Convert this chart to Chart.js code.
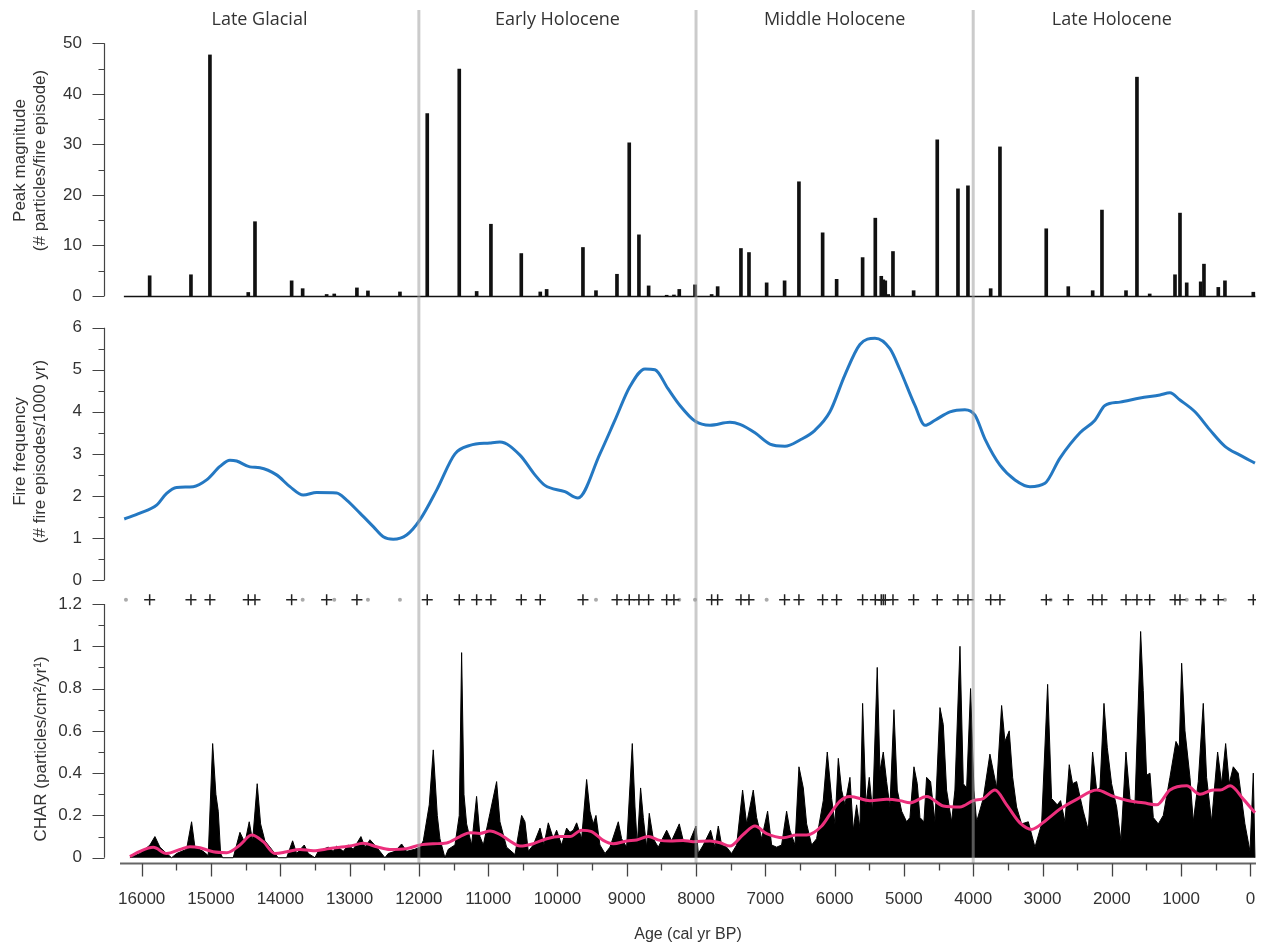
<!DOCTYPE html>
<html>
<head>
<meta charset="utf-8">
<script src="https://cdn.jsdelivr.net/npm/chart.js@4.4.1/dist/chart.umd.min.js"></script>
<style>
  html, body { margin: 0; background: #fff; }
  #wrap { width: 1270px; height: 944px; position: relative; }
</style>
</head>
<body>
<div id="wrap"><canvas id="fireChart"></canvas></div>
<script>
// Periods along the top
const periodNames = ['Late Glacial', 'Early Holocene', 'Middle Holocene', 'Late Holocene'];
const periodCenters = [14300, 10000, 6000, 2000];
const periodBounds = [12000, 8000, 4000];

// Axis ticks
const ageTicks = [0, 1000, 2000, 3000, 4000, 5000, 6000, 7000, 8000, 9000, 10000, 11000, 12000, 13000, 14000, 15000, 16000];
const peakTicks = [0, 10, 20, 30, 40, 50];
const freqTicks = [0, 1, 2, 3, 4, 5, 6];
const charTicks = [0, 0.2, 0.4, 0.6, 0.8, 1, 1.2];
const peakBaseRange = [16257, -72];

// Peak magnitude (particles / fire episode)
const peakAges = [15885, 15289, 15015, 14462, 14365, 13836, 13677, 13331, 13221, 12894, 12735, 12273,
  11879, 11417, 11166, 10960, 10522, 10248, 10156, 9632, 9444, 9141, 8964, 8824, 8684, 8424, 8319, 8242, 8015,
  7775, 7688, 7352, 7236, 6981, 6722, 6515, 6173, 5971, 5596, 5413, 5327, 5298, 5269, 5226, 5158, 4860,
  4519, 4220, 4076, 3748, 3614, 2946, 2628, 2276, 2142, 1795, 1637, 1453, 1088, 1016, 919, 717, 670, 463, 367, -42];
const peakMagnitudes = [4.0, 4.2, 47.7, 0.7, 14.7, 3.0, 1.45, 0.3, 0.4, 1.6, 1.0, 0.8,
  36.1, 44.9, 0.9, 14.2, 8.4, 0.8, 1.3, 9.6, 1.05, 4.3, 30.3, 12.1, 2.0, 0.15, 0.2, 1.3, 2.2,
  0.3, 1.85, 9.4, 8.6, 2.6, 3.0, 22.6, 12.5, 3.3, 7.6, 15.4, 3.9, 3.2, 3.0, 0.3, 8.8, 1.05,
  30.9, 21.2, 21.8, 1.45, 29.5, 13.3, 1.85, 1.05, 17.0, 1.05, 43.3, 0.4, 4.2, 16.4, 2.6, 2.8, 6.3, 1.7, 3.0, 0.75];

// Significant peaks (+) and non-significant peaks (grey dots)
const sigPeakAges = [15885, 15289, 15015, 14462, 14365, 13836, 13331, 12894, 11879, 11417, 11166, 10960, 10522,
  10248, 9632, 9141, 8964, 8824, 8684, 8424, 8319, 7775, 7688, 7352, 7236, 6722, 6515, 6173, 5971, 5596, 5413,
  5327, 5298, 5269, 5158, 4860, 4519, 4220, 4076, 3748, 3614, 2946, 2628, 2276, 2142, 1795, 1637, 1453, 1088,
  1016, 717, 463, -42];
const minorPeakAges = [16227, 13677, 13221, 12735, 12273, 9444, 8242, 8015, 6981, 2882, 919, 670, 367];
const markerLevel = 1.22;

// Fire frequency (episodes / 1000 yr)
const freqAges = [16252, 16026, 15785, 15640, 15496, 15256, 15063, 14871, 14727, 14630, 14438, 14294, 14053,
  13861, 13669, 13475, 13187, 13042, 12850, 12658, 12514, 12370, 12177, 11985, 11740, 11479, 11263, 10974,
  10830, 10541, 10325, 10181, 9892, 9704, 9387, 9170, 8954, 8737, 8593, 8405, 8232, 8016, 7799, 7511, 7366,
  7150, 6933, 6717, 6500, 6284, 6068, 5851, 5635, 5418, 5202, 5057, 4841, 4696, 4552, 4336, 4119, 3975, 3830,
  3614, 3397, 3181, 2965, 2748, 2459, 2243, 2099, 1882, 1593, 1305, 1161, 1016, 800, 584, 367, 150, -66];
const freqValues = [1.45, 1.59, 1.78, 2.06, 2.20, 2.22, 2.38, 2.70, 2.85, 2.83, 2.69, 2.67, 2.50,
  2.22, 2.02, 2.08, 2.07, 1.90, 1.59, 1.27, 1.03, 0.97, 1.07, 1.43, 2.15, 3.00, 3.20, 3.26,
  3.28, 2.97, 2.50, 2.25, 2.10, 1.95, 3.00, 3.80, 4.60, 5.02, 5.00, 4.55, 4.15, 3.78, 3.68, 3.75, 3.70,
  3.50, 3.23, 3.18, 3.33, 3.56, 4.00, 4.88, 5.60, 5.75, 5.50, 5.00, 4.15, 3.68, 3.80, 4.00, 4.05, 3.92, 3.35,
  2.73, 2.38, 2.22, 2.30, 2.90, 3.50, 3.80, 4.15, 4.23, 4.33, 4.40, 4.45, 4.28, 4.00, 3.57, 3.18, 2.97, 2.78];

// CHAR (particles/cm2/yr)
const charAges = [16170, 16026, 15881, 15809, 15737, 15640, 15568, 15496, 15352, 15280, 15232, 15112, 15040,
  14976, 14929, 14895, 14861, 14832, 14679, 14582, 14510, 14448, 14399, 14333, 14284, 14222, 14125, 14030,
  13908, 13822, 13764, 13654, 13596, 13500, 13452, 13308, 13236, 13187, 13091, 13019, 12947, 12836, 12778,
  12706, 12610, 12490, 12442, 12345, 12249, 12177, 12057, 11985,
  11936, 11850, 11792, 11734, 11696, 11624, 11575, 11479, 11417, 11383, 11349, 11311, 11239, 11167, 11118,
  11070, 10974, 10878, 10830, 10734, 10613, 10517, 10469, 10421, 10349, 10252, 10195, 10132, 10060, 10012,
  9940, 9868, 9820, 9771, 9723, 9651, 9579, 9531, 9483, 9444, 9387, 9314, 9242, 9122, 9074, 9002, 8920,
  8881, 8848, 8800, 8761, 8713, 8675, 8617, 8545, 8424, 8352, 8242, 8184, 8088, 8001, 7967, 7895, 7790,
  7727, 7679, 7631, 7559, 7487, 7414, 7328, 7270, 7174, 7126, 7053, 6967, 6909, 6837, 6765, 6693, 6645,
  6572, 6515, 6452, 6404, 6332, 6260, 6164, 6106, 6043, 5995, 5947,
  5899, 5851, 5779, 5731, 5683, 5635, 5596, 5548, 5500, 5452, 5385, 5346, 5298, 5250, 5202, 5144, 5096,
  5033, 4961, 4913, 4855, 4807, 4769, 4711, 4673, 4615, 4552, 4480, 4432, 4384, 4312, 4264, 4191, 4143,
  4095, 4038, 3989, 3951, 3855, 3759, 3710, 3662, 3590, 3542, 3480, 3431, 3374, 3302, 3205, 3109, 3013,
  2926, 2869, 2787, 2739, 2676, 2614, 2566, 2508, 2412, 2339, 2277, 2219, 2171, 2113, 2065, 2003, 1930,
  1868, 1796, 1738, 1666, 1584, 1546, 1498, 1449, 1401, 1329, 1257, 1161, 1074, 1026, 992, 944, 872, 824,
  752, 680, 632, 560, 473, 415, 357, 305, 247, 175, 127, 79, 6, -42, -66];
const charValues = [0, 0.02, 0.06, 0.10, 0.05, 0.02, 0, 0.02, 0.04, 0.17, 0.05, 0.03, 0.01,
  0.54, 0.30, 0.22, 0.02, 0, 0, 0.12, 0.07, 0.17, 0.08, 0.35, 0.16, 0.08, 0.04, 0,
  0, 0.08, 0.02, 0.06, 0.02, 0, 0.03, 0.05, 0.03, 0.055, 0.03, 0.06, 0.04, 0.10, 0.05,
  0.085, 0.05, 0, 0.02, 0.03, 0.065, 0.03, 0.04, 0.05,
  0.08, 0.25, 0.51, 0.20, 0.09, 0.0, 0.04, 0.06, 0.20, 0.97, 0.30, 0.16, 0.06, 0.29, 0.10,
  0.06, 0.21, 0.36, 0.17, 0.05, 0.015, 0.20, 0.17, 0.03, 0.06, 0.14, 0.06, 0.165, 0.09, 0.13,
  0.06, 0.14, 0.12, 0.13, 0.165, 0.09, 0.37, 0.22, 0.16, 0.20, 0.06, 0.02, 0.05, 0.17, 0.09, 0.05, 0.54,
  0.24, 0.06, 0.33, 0.19, 0.05, 0.21, 0.09, 0.05, 0.13, 0.08, 0.16, 0.08, 0.08, 0.15, 0.02, 0.06, 0.13,
  0.05, 0.15, 0.06, 0.05, 0.02, 0.06, 0.32, 0.16, 0.32, 0.19, 0.09, 0.22, 0.06, 0.05, 0.06, 0.22, 0.13,
  0.06, 0.43, 0.33, 0.16, 0.06, 0.09, 0.27, 0.50, 0.28, 0.16, 0.47,
  0.32, 0.25, 0.38, 0.13, 0.25, 0.14, 0.73, 0.25, 0.38, 0.22, 0.90, 0.41, 0.50, 0.36, 0.24, 0.70, 0.32,
  0.22, 0.17, 0.19, 0.43, 0.35, 0.19, 0.17, 0.38, 0.36, 0.17, 0.71, 0.63, 0.32, 0.17, 0.32, 1.00, 0.35,
  0.33, 0.80, 0.32, 0.17, 0.28, 0.49, 0.41, 0.33, 0.72, 0.55, 0.60, 0.38, 0.24, 0.16, 0.17, 0.05, 0.16,
  0.82, 0.28, 0.25, 0.27, 0.17, 0.44, 0.35, 0.36, 0.22, 0.13, 0.50, 0.32, 0.33, 0.73, 0.52, 0.35, 0.24,
  0.08, 0.50, 0.28, 0.25, 1.07, 0.79, 0.39, 0.40, 0.19, 0.16, 0.20, 0.38, 0.55, 0.52, 0.92, 0.60, 0.38, 0.17,
  0.36, 0.73, 0.38, 0.17, 0.50, 0.35, 0.54, 0.35, 0.43, 0.40, 0.28, 0.16, 0.03, 0.40, 0.0];

// Background CHAR (smoothed)
const backgroundAges = [16170, 16026, 15834, 15640, 15448, 15304, 15160, 14968, 14774, 14582, 14413, 14246,
  14077, 13908, 13716, 13524, 13283, 12995, 12803, 12609, 12418, 12177, 11985, 11793, 11599, 11407, 11263,
  11119, 10974, 10830, 10686, 10541, 10349, 10156, 9964, 9820, 9651, 9507, 9339, 9195, 9001, 8857, 8690,
  8521, 8377, 8185, 8040, 7799, 7655, 7511, 7319, 7150, 6981, 6741, 6548, 6404, 6187, 6068, 5923, 5779,
  5490, 5249, 5058, 4913, 4672, 4432, 4191, 3999, 3855, 3686, 3517, 3326, 3157, 2940, 2748, 2507, 2218,
  1978, 1737, 1545, 1352, 1161, 919, 727, 535, 436, 292, 100, -66];
const backgroundValues = [0.005, 0.03, 0.049, 0.02, 0.039, 0.052, 0.047, 0.028, 0.024, 0.06, 0.107, 0.076,
  0.02, 0.028, 0.039, 0.033, 0.044, 0.055, 0.068, 0.052, 0.039, 0.043, 0.06, 0.066, 0.07, 0.10, 0.118,
  0.115, 0.126, 0.11, 0.079, 0.055, 0.066, 0.09, 0.10, 0.10, 0.13, 0.123, 0.082, 0.066, 0.079, 0.084, 0.10,
  0.082, 0.079, 0.082, 0.076, 0.079, 0.071, 0.055, 0.11, 0.15, 0.114, 0.095, 0.107, 0.107, 0.15, 0.205, 0.268, 0.29,
  0.27, 0.276, 0.27, 0.26, 0.29, 0.245, 0.24, 0.27, 0.28, 0.32, 0.25, 0.165, 0.134, 0.18, 0.23, 0.276, 0.32,
  0.29, 0.268, 0.26, 0.25, 0.32, 0.34, 0.30, 0.32, 0.32, 0.34, 0.276, 0.213];

const textColor = '#333';
Chart.defaults.font.family = '"Liberation Sans", Arial, sans-serif';
Chart.defaults.font.size = 17;
Chart.defaults.color = textColor;

const pairs = (xs, ys) => xs.map((x, i) => ({ x: x, y: ys[i] }));

// R style axes, period lines and labels
const panelDecor = {
  id: 'panelDecor',
  afterDatasetsDraw(chart) {
    const { ctx, chartArea: area, scales } = chart;
    const x = scales.x;
    ctx.save();

    // baseline of the peak panel
    const y0 = Math.round(scales.yTop.getPixelForValue(0)) + 0.5;
    ctx.strokeStyle = '#111';
    ctx.lineWidth = 1.5;
    ctx.beginPath();
    ctx.moveTo(x.getPixelForValue(peakBaseRange[0]), y0);
    ctx.lineTo(x.getPixelForValue(peakBaseRange[1]), y0);
    ctx.stroke();

    // period boundaries
    ctx.strokeStyle = 'rgba(160,160,160,0.55)';
    ctx.lineWidth = 3;
    periodBounds.forEach(a => {
      const px = x.getPixelForValue(a);
      ctx.beginPath();
      ctx.moveTo(px, area.top);
      ctx.lineTo(px, area.bottom);
      ctx.stroke();
    });

    ctx.fillStyle = textColor;
    ctx.font = '18px "Open Sans", sans-serif';
    ctx.textAlign = 'center';
    ctx.textBaseline = 'middle';
    periodNames.forEach((n, i) => ctx.fillText(n, x.getPixelForValue(periodCenters[i]), area.top + 10));

    // y axes
    const axisX = area.left - 15.5;
    ctx.strokeStyle = '#444';
    ctx.lineWidth = 1.2;
    [[scales.yTop, peakTicks, 5], [scales.yMid, freqTicks, 0.5], [scales.yChar, charTicks, 0.1]].forEach(([s, ticks, step]) => {
      const top = ticks[ticks.length - 1];
      ctx.beginPath();
      ctx.moveTo(axisX, s.getPixelForValue(0));
      ctx.lineTo(axisX, s.getPixelForValue(top));
      for (let i = 0; i * step <= top + 1e-9; i++) {
        const py = Math.round(s.getPixelForValue(i * step)) + 0.5;
        const len = i % 2 === 0 ? 12 : 6;
        ctx.moveTo(axisX - len, py);
        ctx.lineTo(axisX, py);
      }
      ctx.stroke();
    });

    // x axis
    const ay = area.bottom + 0.5;
    ctx.strokeStyle = '#666';
    ctx.lineWidth = 2;
    ctx.beginPath();
    ctx.moveTo(area.left, ay);
    ctx.lineTo(area.right, ay);
    ctx.stroke();
    ctx.strokeStyle = '#444';
    ctx.lineWidth = 1.3;
    ctx.beginPath();
    for (let a = 0; a <= 16000; a += 500) {
      const px = Math.round(x.getPixelForValue(a)) + 0.5;
      ctx.moveTo(px, ay);
      ctx.lineTo(px, ay + (a % 1000 === 0 ? 13 : 7));
    }
    ctx.stroke();

    // CHAR axis title
    ctx.save();
    ctx.translate(area.left - 79, 749);
    ctx.rotate(-Math.PI / 2);
    ctx.font = '17px "Liberation Sans", Arial, sans-serif';
    ctx.fillText('CHAR (particles/cm²/yr¹)', 0, 0);
    ctx.restore();

    ctx.restore();
  }
};

const yCommon = {
  type: 'linear',
  position: 'left',
  stack: 'panels',
  grid: { display: false, drawTicks: false },
  border: { display: false },
  afterFit: s => { s.width = 120; s.paddingTop = 0; s.paddingBottom = 0; }
};

new Chart(document.getElementById('fireChart'), {
  type: 'line',
  data: {
    datasets: [
      {
        type: 'scatter', label: 'significant peaks', order: 0,
        data: sigPeakAges.map(a => ({ x: a, y: markerLevel })),
        yAxisID: 'yChar', pointStyle: 'cross', pointRadius: 5.5, borderColor: '#222', borderWidth: 1.5
      },
      {
        type: 'scatter', label: 'other peaks', order: 0,
        data: minorPeakAges.map(a => ({ x: a, y: markerLevel })),
        yAxisID: 'yChar', pointStyle: 'circle', pointRadius: 2, backgroundColor: '#aaa', borderWidth: 0
      },
      {
        label: 'background', order: 1, data: pairs(backgroundAges, backgroundValues), yAxisID: 'yChar',
        borderColor: '#ec2f7c', borderWidth: 3, pointRadius: 0, cubicInterpolationMode: 'monotone', fill: false
      },
      {
        label: 'CHAR', order: 3, data: pairs(charAges, charValues), yAxisID: 'yChar',
        borderColor: '#000', borderWidth: 1, backgroundColor: '#000', pointRadius: 0, tension: 0, fill: 'origin'
      },
      {
        label: 'fire frequency', order: 2, data: pairs(freqAges, freqValues), yAxisID: 'yMid',
        borderColor: '#2478c2', borderWidth: 3, pointRadius: 0, cubicInterpolationMode: 'monotone', fill: false
      },
      {
        type: 'bar', label: 'peak magnitude', order: 2, data: pairs(peakAges, peakMagnitudes), yAxisID: 'yTop',
        backgroundColor: '#111', barThickness: 3, grouped: false
      }
    ]
  },
  options: {
    responsive: true,
    maintainAspectRatio: false,
    animation: false,
    layout: { padding: { top: 10, right: 14, bottom: 0, left: 0 } },
    plugins: { legend: { display: false }, tooltip: { enabled: false } },
    scales: {
      x: {
        type: 'linear', position: 'bottom', min: -81, max: 16313, reverse: true, offset: false,
        grid: { display: false, drawTicks: false, offset: false },
        border: { display: false },
        afterBuildTicks: s => { s.ticks = ageTicks.map(v => ({ value: v })); },
        ticks: { autoSkip: false, maxRotation: 0, padding: 26, callback: v => String(v) },
        title: { display: true, text: 'Age (cal yr BP)', font: { size: 16 }, padding: { top: 0, bottom: 0 } },
        afterFit: s => { s.height = 81; s.paddingLeft = 0; s.paddingRight = 0; }
      },
      yChar: Object.assign({}, yCommon, {
        stackWeight: 271, min: -0.025, max: 1.2568,
        afterBuildTicks: s => { s.ticks = charTicks.map(v => ({ value: v })); },
        ticks: { padding: 38, callback: v => String(v) },
        title: { display: false }
      }),
      yMid: Object.assign({}, yCommon, {
        stackWeight: 281, min: -0.2854, max: 6.397,
        afterBuildTicks: s => { s.ticks = freqTicks.map(v => ({ value: v })); },
        ticks: { padding: 38, callback: v => String(v) },
        title: { display: true, text: ['Fire frequency', '(# fire episodes/1000 yr)'], padding: { top: 10, bottom: 0 } }
      }),
      yTop: Object.assign({}, yCommon, {
        stackWeight: 301, min: -2.968, max: 56.59,
        afterBuildTicks: s => { s.ticks = peakTicks.map(v => ({ value: v })); },
        ticks: { padding: 38, callback: v => String(v) },
        title: { display: true, text: ['Peak magnitude', '(# particles/fire episode)'], padding: { top: 10, bottom: 0 } }
      })
    }
  },
  plugins: [panelDecor]
});
</script>
</body>
</html>
